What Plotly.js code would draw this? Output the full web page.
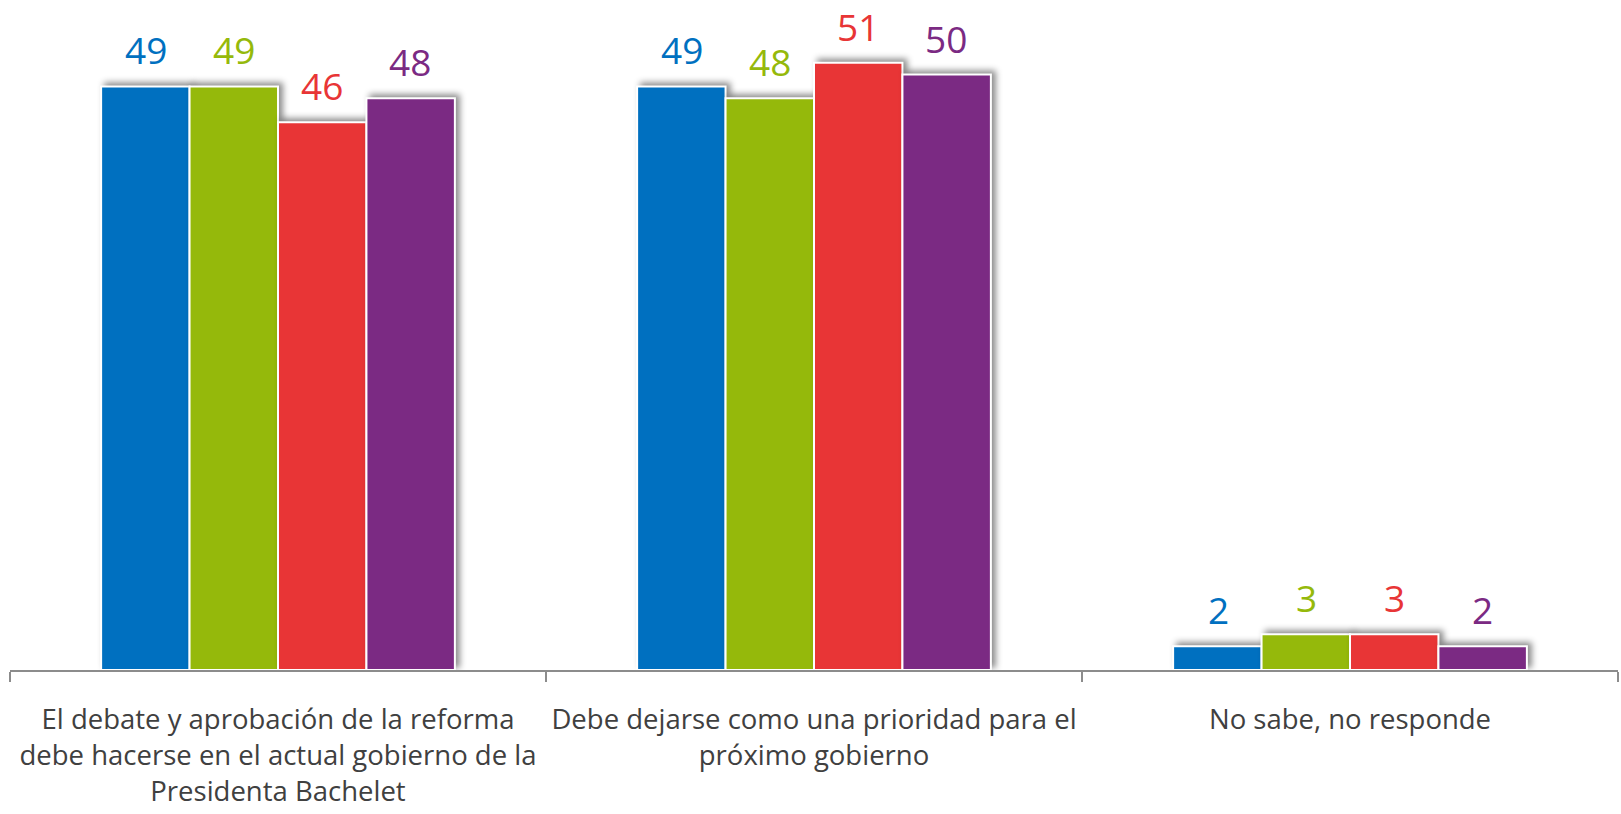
<!DOCTYPE html>
<html>
<head>
<meta charset="utf-8">
<script src="https://cdn.plot.ly/plotly-3.0.1.min.js"></script>
<style>
  body { margin: 0; background: #fff; }
  #chart { width: 1621px; height: 814px; }
  .bars .point path { filter: drop-shadow(4px -3px 3px rgba(0,0,0,0.45)); }
</style>
</head>
<body>
<div id="chart"></div>
<script>
// categories (x axis)
const categories = [
    "El debate y aprobación de la reforma<br>debe hacerse en el actual gobierno de la<br>Presidenta Bachelet",
    "Debe dejarse como una prioridad para el<br>próximo gobierno",
    "No sabe, no responde"
];

// four series, no legend in the original
const serie1 = [49, 49, 2];
const serie2 = [49, 48, 3];
const serie3 = [46, 51, 3];
const serie4 = [48, 50, 2];

const seriesValues = [serie1, serie2, serie3, serie4];
const seriesColors = ["#0070C0", "#95B90B", "#E83536", "#7B2A83"];

const traces = seriesValues.map(function (vals, i) {
    return {
        type: "bar",
        x: categories,
        y: vals,
        marker: { color: seriesColors[i], line: { color: "#ffffff", width: 2 } },
        hoverinfo: "y",
        showlegend: false,
    };
});

// value labels above bars, lifted a bit like the original
const annotations = [];
seriesValues.forEach(function (vals, i) {
    vals.forEach(function (v, j) {
        annotations.push({
            x: categories[j],
            y: v,
            xref: "x",
            yref: "y",
            xshift: (i - 1.5) * 88,
            yshift: 9,
            yanchor: "bottom",
            text: String(v),
            showarrow: false,
            font: { family: "Open Sans, sans-serif", size: 37, color: seriesColors[i] },
        });
    });
});

const layout = {
    width: 1621,
    height: 814,
    margin: { l: 10, r: 3, t: 15, b: 144 },
    paper_bgcolor: "#ffffff",
    plot_bgcolor: "#ffffff",
    barmode: "group",
    bargap: 0.34,
    bargroupgap: 0,
    font: { family: "Open Sans, sans-serif", color: "#404040" },
    xaxis: {
        type: "category",
        showline: true,
        linecolor: "#8c8c8c",
        linewidth: 2,
        ticks: "outside",
        tickson: "boundaries",
        ticklen: 10,
        tickwidth: 2,
        tickcolor: "#8c8c8c",
        tickfont: { size: 27.5, color: "#404040" },
        ticklabelstandoff: 24,
        showgrid: false,
    },
    yaxis: {
        range: [0, 55],
        visible: false,
        showgrid: false,
        zeroline: false,
    },
    annotations: annotations,
};

Plotly.newPlot("chart", traces, layout, { displayModeBar: false, staticPlot: true });
</script>
</body>
</html>
